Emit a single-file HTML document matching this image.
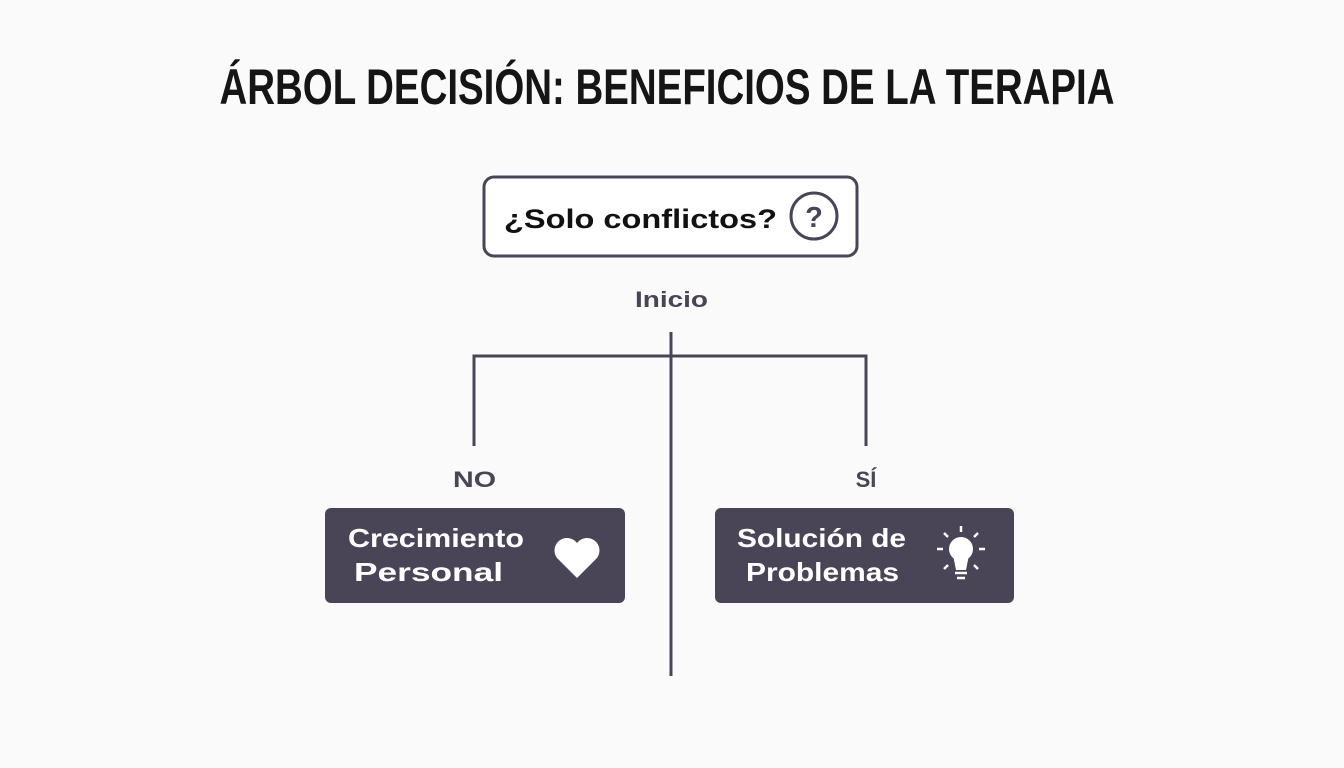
<!DOCTYPE html>
<html><head><meta charset="utf-8"><style>
body{margin:0;background:#fafafa;}
svg{display:block}
</style></head><body>
<svg width="1344" height="768" viewBox="0 0 1344 768" xmlns="http://www.w3.org/2000/svg">
<rect width="1344" height="768" fill="#fafafa"/>
<text x="667" y="104" text-anchor="middle" font-family="Liberation Sans Narrow, Liberation Sans, sans-serif" font-weight="bold" font-size="50" fill="#151515" textLength="895" lengthAdjust="spacingAndGlyphs">ÁRBOL DECISIÓN: BENEFICIOS DE LA TERAPIA</text>
<rect x="484" y="177" width="373" height="79" rx="10" fill="#fff" stroke="#4a4556" stroke-width="3"/>
<text x="504" y="228" font-family="Liberation Sans, sans-serif" font-weight="bold" font-size="27" fill="#111" textLength="273" lengthAdjust="spacingAndGlyphs">¿Solo conflictos?</text>
<circle cx="814" cy="216" r="23" fill="none" stroke="#4a4556" stroke-width="3"/>
<text x="814" y="227" text-anchor="middle" font-family="Liberation Sans, sans-serif" font-weight="bold" font-size="29" fill="#4a4556">?</text>
<text x="635" y="307" font-family="Liberation Sans, sans-serif" font-weight="bold" font-size="22" fill="#4a4556" textLength="73" lengthAdjust="spacingAndGlyphs">Inicio</text>
<g stroke="#4a4556" stroke-width="3" fill="none">
<line x1="671" y1="332" x2="671" y2="676"/>
<polyline points="474,446 474,356 866,356 866,446"/>
</g>
<text x="453" y="487" font-family="Liberation Sans, sans-serif" font-weight="bold" font-size="22" fill="#4a4556" textLength="43" lengthAdjust="spacingAndGlyphs">NO</text>
<text x="866" y="487" text-anchor="middle" font-family="Liberation Sans, sans-serif" font-weight="bold" font-size="22" fill="#4a4556">SÍ</text>
<rect x="325" y="508" width="300" height="95" rx="6" fill="#4a4556"/>
<text x="348" y="547" font-family="Liberation Sans, sans-serif" font-weight="bold" font-size="26" fill="#fff" textLength="176" lengthAdjust="spacingAndGlyphs">Crecimiento</text>
<text x="354" y="581" font-family="Liberation Sans, sans-serif" font-weight="bold" font-size="26" fill="#fff" textLength="149" lengthAdjust="spacingAndGlyphs">Personal</text>
<path d="M577 578 L557 558 A11 11 0 0 1 577 543 A11 11 0 0 1 597 558 Z" fill="#fff"/>
<rect x="715" y="508" width="299" height="95" rx="6" fill="#4a4556"/>
<text x="737" y="547" font-family="Liberation Sans, sans-serif" font-weight="bold" font-size="26" fill="#fff" textLength="169" lengthAdjust="spacingAndGlyphs">Solución de</text>
<text x="746" y="581" font-family="Liberation Sans, sans-serif" font-weight="bold" font-size="26" fill="#fff" textLength="153" lengthAdjust="spacingAndGlyphs">Problemas</text>
<g fill="#fff" stroke="#fff">
<circle cx="961" cy="549" r="12" stroke="none"/>
<path d="M953 555 L969 555 L966 570 L956 570 Z" stroke="none"/>
<line x1="955" y1="573" x2="967" y2="573" stroke-width="2.5"/>
<line x1="957" y1="578" x2="965" y2="578" stroke-width="2.5"/>
<g stroke-width="2.5">
<line x1="961" y1="526" x2="961" y2="532"/>
<line x1="937" y1="549" x2="943" y2="549"/>
<line x1="979" y1="549" x2="985" y2="549"/>
<line x1="944" y1="533" x2="948" y2="537"/>
<line x1="978" y1="533" x2="974" y2="537"/>
<line x1="944" y1="569" x2="948" y2="565"/>
<line x1="978" y1="569" x2="974" y2="565"/>
</g>
</g>
</svg>
</body></html>
